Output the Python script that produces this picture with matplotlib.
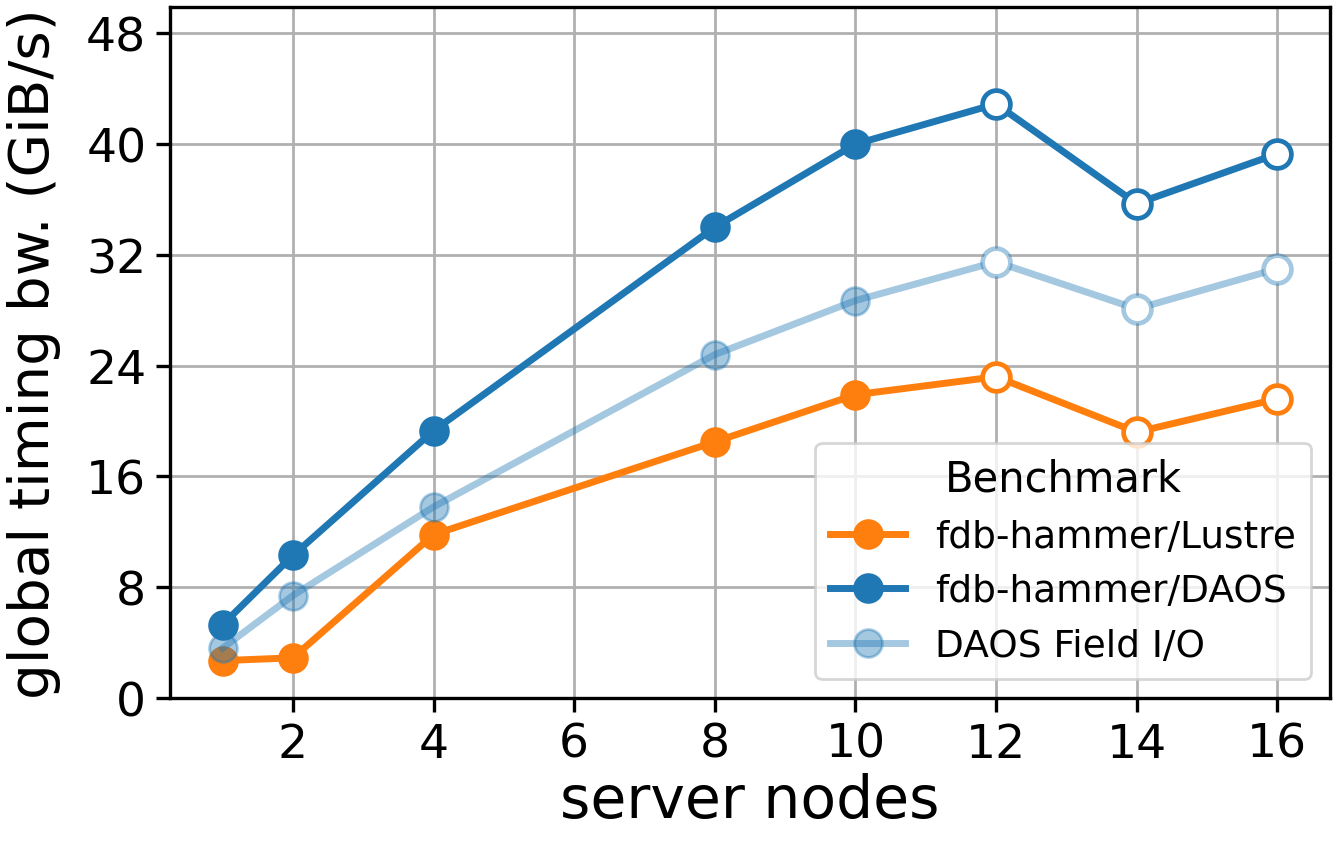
import matplotlib
matplotlib.use('Agg')
import matplotlib.pyplot as plt
from matplotlib.colors import to_rgba

nodes = [1, 2, 4, 8, 10, 12, 14, 16]
lustre = [2.7, 2.9, 11.8, 18.5, 21.9, 23.2, 19.2, 21.6]
daos = [5.3, 10.3, 19.3, 34.0, 40.0, 42.9, 35.7, 39.3]
field_io = [3.6, 7.4, 13.8, 24.8, 28.7, 31.5, 28.1, 31.0]
n_filled = 5  # last points drawn as hollow markers

fig = plt.figure(figsize=(6.69, 4.225), dpi=200)
ax = fig.add_axes([0.127, 0.1728, 0.867, 0.8177])

orange = 'tab:orange'
blue = 'tab:blue'
light = to_rgba('tab:blue', 0.4)

series = [
    ('fdb-hammer/Lustre', lustre, to_rgba(orange)),
    ('fdb-hammer/DAOS', daos, to_rgba(blue)),
    ('DAOS Field I/O', field_io, light),
]

for label, vals, col in series:
    ax.plot(nodes, vals, color=col, lw=2.5, marker='o', ms=10,
            markevery=list(range(n_filled)), mfc=col, mec=col, label=label)
    ax.plot(nodes[n_filled:], vals[n_filled:], ls='none', marker='o', ms=10,
            mfc='white', mec=col, mew=1.7)

ax.set_xlim(0.25, 16.75)
ax.set_ylim(0, 49.9)
ax.set_xticks([2, 4, 6, 8, 10, 12, 14, 16])
ax.set_yticks([0, 8, 16, 24, 32, 40, 48])
ax.grid(True, color='#b0b0b0', lw=1.0)
ax.set_axisbelow(True)
ax.tick_params(labelsize=17, length=5, width=1.2)
for s in ax.spines.values():
    s.set_linewidth(1.2)

ax.set_xlabel('server nodes', fontsize=21, labelpad=2)
ax.set_ylabel('global timing bw. (GiB/s)', fontsize=20.3, labelpad=9)

leg = ax.legend(title='Benchmark', loc='lower right', fontsize=13.5,
                title_fontsize=15, framealpha=0.8, handlelength=2.0)

fig.savefig('out.png', dpi=200)
